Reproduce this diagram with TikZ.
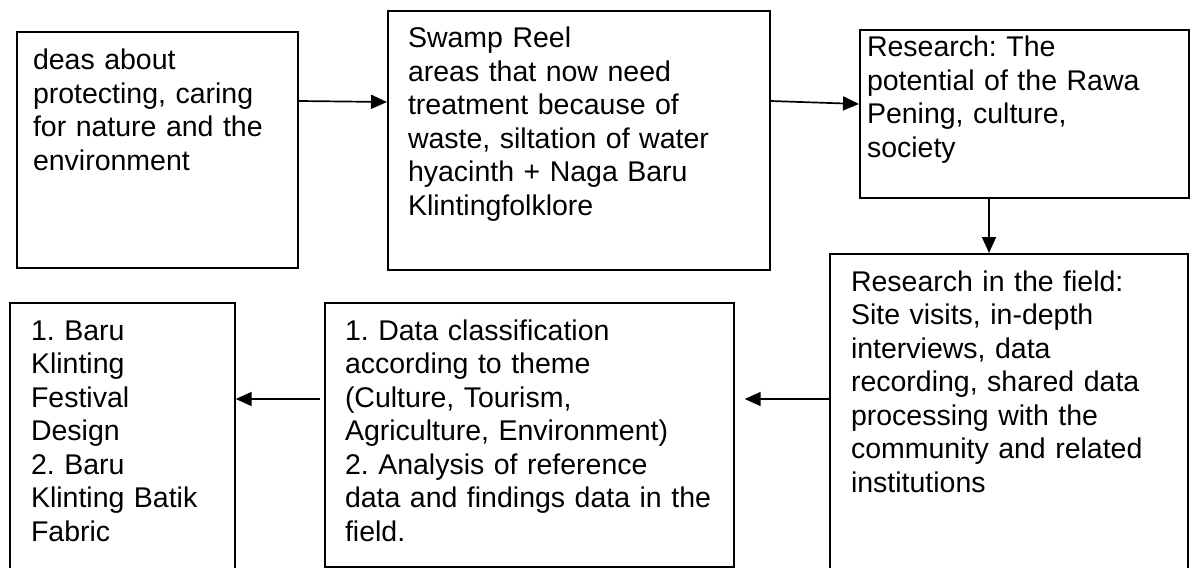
\documentclass[tikz,border=0pt]{standalone}
\usepackage{fontspec}
\setmainfont{Liberation Sans}
\usetikzlibrary{arrows.meta}
\tikzset{
  box/.style={draw=black, line width=1.7pt, rectangle, anchor=north west, inner sep=0pt},
  txt/.style={anchor=base west, inner sep=0pt, outer sep=0pt, text width=420pt, align=left,
              font=\fontsize{28.5}{33.5}\selectfont\frenchspacing},
  conn/.style={line width=1.7pt, -{Triangle[length=16pt, width=14pt]}}
}
\begin{document}
\begin{tikzpicture}[x=1pt, y=-1pt]
\useasboundingbox (0,0) rectangle (1190,567);
\clip (0,0) rectangle (1190,567);
% boxes
\node[box, minimum width=281pt, minimum height=236pt] (b1) at (16,31) {};
\node[box, minimum width=382pt, minimum height=259pt] (b2) at (387,10) {};
\node[box, minimum width=329pt, minimum height=168pt] (b3) at (859,29) {};
\node[box, minimum width=358pt, minimum height=350pt] (b4) at (829,253) {};
\node[box, minimum width=409pt, minimum height=264pt] (b5) at (324,302) {};
\node[box, minimum width=225pt, minimum height=300pt] (b6) at (9,302) {};
% texts
\node[txt] (t1) at (33,70) {deas about\\protecting, caring\\for nature and the\\environment};
\node[txt] (t2) at (408,48) {Swamp Reel\\areas that now need\\treatment because of\\waste, siltation of water\\hyacinth + Naga Baru\\Klintingfolklore};
\node[txt] (t3) at (867,57) {Research: The\\potential of the Rawa\\Pening, culture,\\society};
\node[txt] (t4) at (851,291) {Research in the field:\\Site visits, in-depth\\interviews, data\\recording, shared data\\processing with the\\community and related\\institutions};
\node[txt] (t5) at (345,340) {1. Data classification\\according to theme\\(Culture, Tourism,\\Agriculture, Environment)\\2. Analysis of reference\\data and findings data in the\\field.};
\node[txt] (t6) at (31,340) {1. Baru\\Klinting\\Festival\\Design\\2. Baru\\Klinting Batik\\Fabric};
% connectors
\draw[conn] ([yshift=-70pt]b1.north east) -- ([yshift=-92pt]b2.north west);
\draw[conn] ([yshift=-91pt]b2.north east) -- ([yshift=-75pt]b3.north west);
\draw[conn] ([xshift=130pt]b3.south west) -- ([xshift=160pt]b4.north west);
\draw[conn, shorten >=10pt] ([yshift=-146pt]b4.north west) -- ([yshift=-97pt]b5.north east);
\draw[conn, shorten <=4pt] ([yshift=-97pt]b5.north west) -- ([yshift=-97pt]b6.north east);
\end{tikzpicture}
\end{document}
